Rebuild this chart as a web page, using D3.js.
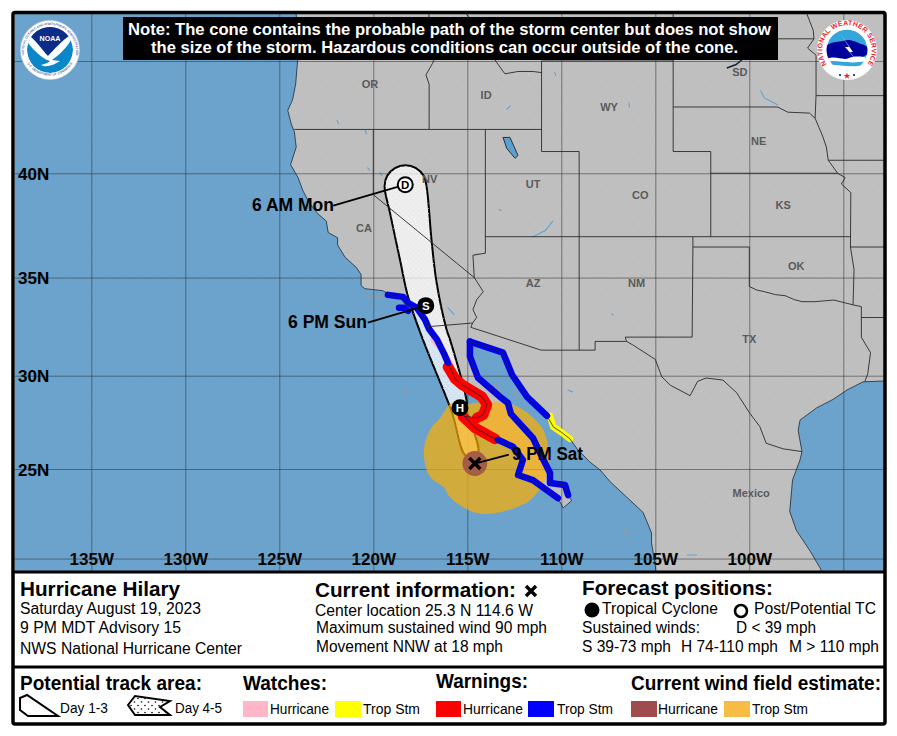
<!DOCTYPE html>
<html>
<head>
<meta charset="utf-8">
<title>Hurricane Hilary</title>
<script src="https://cdn.jsdelivr.net/npm/d3@7"></script>
<style>
  html, body { margin: 0; padding: 0; background: #fff; }
  svg { display: block; }
  text { font-family: "Liberation Sans", Arial, sans-serif; }
</style>
</head>
<body>
<svg id="map" width="897" height="736"></svg>
<script>
// Grid and tick labels
const lonGrid = [-135, -130, -125, -120, -115, -110, -105, -100, -95];
const lonLabels = ["135W", "130W", "125W", "120W", "115W", "110W", "105W", "100W", ""];
const latGrid = [20, 25, 30, 35, 40, 45];
const latLabels = ["", "25N", "30N", "35N", "40N", ""];

// Land outline, lon/lat: Pacific coast south, Baja round to the Gulf of California, Mexico, Gulf coast
const land = [
  [-124.1,47.5],[-124.1,46.9],[-124,46.3],[-123.95,45.9],[-123.97,45.5],[-124.05,44.8],[-124.13,44],[-124.3,43.3],
  [-124.55,42.85],[-124.35,42.2],[-124.2,41.9],[-124.1,41.2],[-124.4,40.4],[-124,39.8],[-123.75,39.2],[-123.4,38.6],
  [-122.95,38.1],[-122.5,37.75],[-122.4,37.2],[-121.9,36.95],[-121.9,36.6],[-121.5,36],[-120.9,35.5],[-120.65,35.15],
  [-120.65,34.6],[-120.45,34.45],[-119.5,34.35],[-118.9,34.05],[-118.45,33.95],[-118.3,33.7],[-117.7,33.45],[-117.25,32.9],
  [-117.12,32.53],[-116.9,32.1],[-116.61,31.87],[-116.24,31.15],[-116.03,30.68],[-115.85,30.3],[-115.65,29.84],[-115.28,29.53],
  [-114.22,28.89],[-113.95,28.47],[-114.16,27.93],[-114.48,27.77],[-115.15,27.85],[-114.59,27.23],[-113.53,26.64],
  [-112.57,26.21],[-112.04,25.5],[-112.3,24.67],[-111.51,24.39],[-110.18,23.39],[-109.9,22.85],[-109.45,23.25],[-109.64,23.56],
  [-109.8,24.12],[-110.6,24.23],[-110.6,24.78],[-111.08,25.77],[-111.51,26.69],[-112.68,27.98],[-112.84,28.57],[-113.26,28.89],
  [-114.43,29.89],[-114.86,31],[-114.86,31.77],[-113.1,31.2],[-112.62,30.05],[-111.82,28.89],[-110.76,27.88],[-110.43,27.29],
  [-109.96,26.97],[-109.54,26.64],[-109.16,26.1],[-108.5,25.4],[-107.94,24.95],[-107.4,24.3],[-105.65,22.6],[-105.2,21.45],
  [-105.2,20.9],[-105,19.6],[-104.9,18.5],[-96,18.5],[-96.2,19.4],[-96.75,20.4],[-97.5,21.6],[-97.85,22.65],[-97.7,24.4],
  [-97.3,25.5],[-97.2,25.95],[-97.4,27.1],[-97.3,27.65],[-96.42,28.3],[-95.55,28.75],[-94.8,29.25],[-93.95,29.68],[-92.9,29.72],
  [-92,29.7],[-92,47.5]
];

const stateLines = [
  [[-124,46.25],[-123.2,46.15],[-122.8,45.9],[-122.7,45.6],[-122.2,45.57],[-121.2,45.65],[-120.5,45.7],[-119.3,45.93],[-119,46],[-116.92,46]],
  [[-117.04,47.5],[-117.04,46.4],[-116.92,46]],
  [[-116.92,46],[-116.47,45.6],[-116.85,44.9],[-117.2,44.4],[-117.03,44],[-117.03,42]],
  [[-124.2,42],[-111.05,42]],
  [[-116.05,47.5],[-115.7,47.45],[-114.7,46.7],[-114.4,45.6],[-113.9,45.6],[-113.45,44.95],[-113,44.45],[-112.3,44.55],[-111.5,44.55],[-111.05,44.5]],
  [[-111.05,45],[-111.05,41],[-109.05,41]],
  [[-111.05,45],[-104.05,45]],
  [[-104.05,47.5],[-104.05,41]],
  [[-114.04,42],[-114.04,36.2],[-114.7,36.1],[-114.63,35],[-114.15,34.3],[-114.5,33.9],[-114.7,33.4],[-114.5,33],[-114.72,32.72],[-114.81,32.5],[-111.07,31.33],[-108.2,31.33],[-108.2,31.78],[-106.53,31.78]],
  [[-120,42],[-120,39],[-114.63,35]],
  [[-117.12,32.53],[-114.72,32.72]],
  [[-109.05,41],[-109.05,31.33]],
  [[-114.04,37],[-94.62,37]],
  [[-104.05,41],[-102.05,41],[-102.05,37]],
  [[-102.05,40],[-95.3,40]],
  [[-104.05,43],[-98.5,43],[-97.95,42.77],[-96.8,42.73],[-96.5,42.5]],
  [[-104.05,45.94],[-96.56,45.94]],
  [[-97.2,47.5],[-96.6,46.3],[-96.56,45.94],[-96.9,45.55],[-96.45,45.25],[-96.45,43.5],[-92,43.5]],
  [[-96.45,43.5],[-96.5,42.5],[-96.1,41.7],[-95.9,41.2],[-95.8,40.6],[-95.3,40],[-94.9,39.8],[-95.1,39.5],[-94.6,39.1],[-94.62,36.5],[-94.43,35.4],[-94.48,33.64]],
  [[-95.8,40.6],[-92,40.6]],
  [[-94.62,36.5],[-92,36.5]],
  [[-103,37],[-103,36.5],[-100,36.5],[-100,34.56],[-99.6,34.38],[-99.2,34.3],[-98.6,34.15],[-98.1,34.1],[-97.6,33.9],[-97.2,33.8],[-96.5,33.8],[-95.5,33.88],[-94.48,33.64],[-94.04,33.55],[-94.04,31.99],[-93.55,31.2],[-93.7,30.1],[-93.85,29.7]],
  [[-103,36.5],[-103.04,32],[-106.6,32],[-106.53,31.78],[-106.2,31.6],[-105,30.85],[-104.66,29.95],[-104.2,29.5],[-103.15,28.95],[-102.75,29.7],[-102.3,29.88],[-101.4,29.77],[-100.67,29.1],[-100,28.05],[-99.44,27.3],[-99.1,26.4],[-98.2,26.1],[-97.2,25.95]],
  [[-94.04,33],[-92,33]]
];

// Lakes, rivers and small islands
const lakes = [
  [[-121.93,42.4],[-121.85,42.25]],[[-120.44,41.95],[-120.35,41.8]],[[-119.65,40.05],[-119.55,39.9]],[[-120.3,40.25],[-120.2,40.15]],
  [[-120,39.15],[-120,39.02]],[[-110.35,44.5],[-110.3,44.38]],[[-110.45,37.75],[-110.85,37.3],[-111.5,37]],[[-112.7,43.05],[-112.9,42.9]],
  [[-114.6,36.15],[-114.4,36.15]],[[-116.03,33.5],[-115.7,33.15]],[[-103.3,20.2],[-102.8,20.2]],[[-99.4,43.7],[-99.2,43.4],[-98.5,43.1]],
  [[-109.65,29.25],[-109.4,29.15]],[[-113.3,38.3],[-113.2,38.25]],[[-106.4,43.2],[-106.38,43]],[[-107.3,33.2],[-107.25,33.1]]
];
const saltLake = [[-113.1,41.64],[-112.73,41.64],[-112.3,40.82],[-112.46,40.69],[-112.9,41.14]];
const oahe = [[-101.2,44.7],[-100.7,44.85],[-100.4,45.05]];
const islands = [
  [[-120.4,34.05],[-120,33.98]],[[-119.85,34.02],[-119.5,34.02]],[[-118.6,33.45],[-118.35,33.35]],
  [[-113.55,29.55],[-113.2,29.05]],[[-112.55,29.2],[-112.3,28.8]],[[-118.3,29.2],[-118.3,28.95]],[[-106.7,21.65],[-106.4,21.4]]
];

const stateNames = ["OR","ID","WY","SD","NE","NV","UT","CO","KS","CA","AZ","NM","OK","TX","Mexico"];
const stateLons = [-120.18,-114,-107.46,-100.5,-99.5,-117,-111.5,-105.8,-98.2,-120.5,-111.5,-106,-97.5,-100,-99.9];
const stateLats = [44,43.5,43,44.5,41.45,39.75,39.5,39,38.5,37.4,34.7,34.7,35.55,31.9,23.65];

// Storm: current position, forecast points, cone, wind field
const currentCenter = [-114.6, 25.3];
const hurricaneRadius = 0.66; // degrees of longitude
const forecastCodes = ["H", "S", "D"];
const forecastPoints = [[-115.39,28.31],[-117.21,33.6],[-118.3,39.47]];
const forecastTimes = ["9 PM Sat", "6 PM Sun", "6 AM Mon"];
const cone = [
  [-115.07,25.72],[-115.83,28.11],[-117.36,31.87],[-118.15,34.04],[-118.58,35.88],[-119.11,38.13],[-119.4,39.4],[-119.26,39.88],
  [-118.85,40.24],[-118.29,40.37],[-117.73,40.24],[-117.32,39.88],[-117.17,39.4],[-116.89,36.71],[-116.63,34.73],[-116.1,32.38],
  [-115.92,31.87],[-115.03,28.64],[-115.02,28.15],[-114.43,25.87]
];
const windField = [
  [-115.83,28.56],[-116.45,27.76],[-116.98,27.13],[-117.29,26.22],[-117.25,25.32],[-116.98,24.57],[-116.19,23.93],[-116.01,23.56],
  [-115.39,23],[-114.5,22.57],[-113.61,22.54],[-112.55,22.82],[-111.66,23.28],[-110.96,24.21],[-110.64,25.32],[-110.69,26.22],
  [-110.96,27.13],[-111.49,27.76],[-112.2,28.29],[-112.91,28.56],[-113.79,28.59],[-114.68,28.56],[-115.39,28.38]
];

// Watch and warning segments
const hurricaneWatch = [[[-116.82,31.87],[-116.36,31.36],[-115.92,30.68],[-115.81,30.2]]];
const stormWatch = [[[-110.6,27.88],[-110.43,27.29],[-109.96,26.97],[-109.54,26.64]]];
const hurricaneWarning = [
  [[-116.03,30.47],[-115.65,29.84],[-115.28,29.53],[-114.22,28.89],[-113.95,28.47],[-114.16,27.93],[-114.48,27.77]],
  [[-115.23,27.83],[-114.59,27.23],[-113.53,26.64]]
];
const stormWarning = [
  [[-119.22,34.14],[-118.42,34.04],[-118.15,33.74],[-117.68,33.49],[-117.25,32.89],[-117.04,32.43],[-116.61,31.87],[-116.24,31.15],[-116.03,30.68]],
  [[-118.63,33.49],[-118.37,33.49],[-118.15,33.34]],
  [[-113.37,26.59],[-112.57,26.21],[-112.04,25.5],[-112.3,24.67],[-111.51,24.39],[-110.18,23.39]],
  [[-114.86,31.77],[-114.86,31],[-114.43,29.89],[-113.26,28.89],[-112.84,28.57],[-112.68,27.98],[-111.51,26.69],[-111.08,25.77],[-110.6,24.78],[-110.6,24.23],[-109.8,24.12],[-109.64,23.56]],
  [[-114.86,31.77],[-113.1,31.2],[-112.62,30.05],[-111.82,28.89],[-110.76,27.88]]
];

// Text panels
const noteLines = ["Note: The cone contains the probable path of the storm center but does not show",
                   "the size of the storm. Hazardous conditions can occur outside of the cone."];
const stormLines = ["Hurricane Hilary", "Saturday August 19, 2023", "9 PM MDT Advisory 15", "NWS National Hurricane Center"];
const currentLines = ["Current information:", "Center location 25.3 N 114.6 W", "Maximum sustained wind 90 mph", "Movement NNW at 18 mph"];
const forecastLines = ["Forecast positions:", "Tropical Cyclone", "Post/Potential TC", "Sustained winds:", "D < 39 mph", "S 39-73 mph", "H 74-110 mph", "M > 110 mph"];
const legendHeads = ["Potential track area:", "Watches:", "Warnings:", "Current wind field estimate:"];
const swatchNames = ["Hurricane", "Trop Stm", "Hurricane", "Trop Stm", "Hurricane", "Trop Stm"];
const swatchColors = ["#ffb6c8", "#ffff00", "#ff0000", "#0000ff", "#a04b4e", "#f6bc43"];

// Scales: longitude is linear, latitude goes through Mercator
const merc = lat => Math.log(Math.tan(Math.PI / 4 + lat * Math.PI / 360));
const lonX = d3.scaleLinear().domain([-135, -100]).range([91.3, 749.3]);
const mercY = d3.scaleLinear().domain([merc(25), merc(45)]).range([469, 61]);
const px = d => lonX(d[0]);
const py = d => mercY(merc(d[1]));
const geoLine = d3.line().x(px).y(py);
const smoothClosed = d3.line().x(px).y(py).curve(d3.curveCatmullRomClosed.alpha(0.5));

const svg = d3.select("#map");
const defs = svg.append("defs");

function dots(id, size, bg, color, r, pts) {
  const p = defs.append("pattern").attr("id", id).attr("width", size).attr("height", size).attr("patternUnits", "userSpaceOnUse");
  if (bg) p.append("rect").attr("width", size).attr("height", size).attr("fill", bg);
  pts.forEach(c => p.append("circle").attr("cx", c[0]).attr("cy", c[1]).attr("r", r).attr("fill", color));
}
dots("oceanTex", 17, "#6ca3cc", "#5d97c4", 0.6, [[3,4],[12,12]]);
dots("landTex", 13, "#bfbfbf", "#cbcbcb", 0.55, [[2,3],[9,9]]);
dots("coneTex", 5, null, "#ffffff", 0.6, [[1,1],[3.5,3.5]]);
dots("hurTex", 4, null, "#b86e54", 0.5, [[1,1],[3,3]]);
dots("day45", 7, "#ffffff", "#000000", 0.8, [[1.5,2],[5,5.5]]);

defs.append("clipPath").attr("id", "mapClip").append("rect").attr("x", 15).attr("y", 13).attr("width", 869).attr("height", 559);

const g = svg.append("g").attr("clip-path", "url(#mapClip)");
g.append("rect").attr("x", 15).attr("y", 13).attr("width", 869).attr("height", 559).attr("fill", "url(#oceanTex)");
g.append("path").attr("d", geoLine(land) + "Z").attr("fill", "url(#landTex)");

// Islands, lakes
g.append("g").selectAll("path").data(islands).join("path")
  .attr("d", geoLine).attr("fill", "none").attr("stroke", "#9a9a9a").attr("stroke-width", 1.8).attr("stroke-linecap", "round");
g.append("g").selectAll("path").data(lakes).join("path")
  .attr("d", geoLine).attr("fill", "none").attr("stroke", "#62a3d2").attr("stroke-width", 1.1).attr("stroke-linecap", "round");
g.append("path").attr("d", geoLine(saltLake) + "Z").attr("fill", "#5c9fd0").attr("stroke", "#222").attr("stroke-width", 0.9);
g.append("path").attr("d", geoLine(oahe)).attr("fill", "none").attr("stroke", "#16283c").attr("stroke-width", 1.6);

// Graticule and tick labels, drawn by d3 axes
const lonAxis = d3.axisBottom(lonX).tickValues(lonGrid).tickFormat((d, i) => lonLabels[i]).tickSize(-559);
const latAxis = d3.axisRight(mercY).tickValues(latGrid.map(merc)).tickFormat((d, i) => latLabels[i]).tickSize(869);

function styleAxis(sel) {
  sel.select(".domain").remove();
  sel.selectAll("line").attr("stroke", "#333").attr("stroke-opacity", 0.55).attr("stroke-width", 1);
  sel.selectAll("text").attr("fill", "#000").attr("font-size", 17).attr("font-weight", "bold")
    .attr("font-family", "Liberation Sans, Arial, sans-serif");
}
g.append("g").attr("transform", "translate(0,572)").call(lonAxis).call(styleAxis)
  .selectAll("text").attr("y", -7).attr("dy", 0);
g.append("g").attr("transform", "translate(15,0)").call(latAxis).call(styleAxis)
  .selectAll("text").attr("x", 3).attr("text-anchor", "start").attr("dy", "0.36em");

// Cone, then the wind field over it
g.append("path").attr("d", smoothClosed(cone)).attr("fill", "#fff").attr("fill-opacity", 0.7)
  .attr("stroke", "#000").attr("stroke-width", 2);
g.append("path").attr("d", smoothClosed(cone)).attr("fill", "url(#coneTex)").attr("fill-opacity", 0.7);
g.append("path").attr("d", smoothClosed(windField)).attr("fill", "#feae00").attr("fill-opacity", 0.7);
const hurR = lonX(currentCenter[0] + hurricaneRadius) - lonX(currentCenter[0]);
g.append("circle").attr("cx", px(currentCenter)).attr("cy", py(currentCenter)).attr("r", hurR).attr("fill", "#a55a42");
g.append("circle").attr("cx", px(currentCenter)).attr("cy", py(currentCenter)).attr("r", hurR).attr("fill", "url(#hurTex)");

// State labels sit over the cone
g.append("g").selectAll("text").data(stateNames).join("text")
  .attr("x", (d, i) => lonX(stateLons[i]))
  .attr("y", (d, i) => mercY(merc(stateLats[i])))
  .attr("dy", "0.35em").attr("text-anchor", "middle")
  .attr("font-size", 11).attr("font-weight", "bold").attr("fill", "#5a5a5a").text(d => d);

// Watches and warnings
function segments(data, color, width) {
  g.append("g").selectAll("path").data(data).join("path")
    .attr("d", geoLine).attr("fill", "none").attr("stroke", color).attr("stroke-width", width)
    .attr("stroke-linecap", "round").attr("stroke-linejoin", "round");
}
segments(hurricaneWatch, "#ffb6c8", 5.5);
segments(stormWatch, "#ffff00", 6.5);
segments(hurricaneWarning, "#ff0000", 10.5);
segments(stormWarning, "#0000f0", 6.5);

// Coast and borders over everything so far
g.append("path").attr("d", geoLine(land) + "Z").attr("fill", "none").attr("stroke", "#1c2a36").attr("stroke-width", 0.8);
g.append("g").selectAll("path").data(stateLines).join("path")
  .attr("d", geoLine).attr("fill", "none").attr("stroke", "#2a2a2a").attr("stroke-width", 0.9);

// Time labels with their leader lines
const labelOffsets = [[34, -9], [-58, 17], [-72, 21]];
const labelAnchors = [currentCenter, forecastPoints[1], forecastPoints[2]];
const labelEnds = [[512, 460, 71], [288, 328, 79], [252, 211, 82]];
labelAnchors.forEach((p, i) => {
  g.append("line").attr("x1", px(p)).attr("y1", py(p))
    .attr("x2", px(p) + labelOffsets[i][0]).attr("y2", py(p) + labelOffsets[i][1])
    .attr("stroke", "#000").attr("stroke-width", 1.8);
});

// Forecast markers and the current position
g.append("g").selectAll("g").data(forecastPoints).join("g")
  .attr("transform", d => `translate(${px(d)},${py(d)})`)
  .each(function(d, i) {
    const code = forecastCodes[i], open = code === "D";
    const m = d3.select(this);
    m.append("circle").attr("r", open ? 7.5 : 8.5).attr("fill", open ? "#fff" : "#000")
      .attr("stroke", "#000").attr("stroke-width", open ? 2 : 0);
    m.append("text").attr("text-anchor", "middle").attr("dy", "0.36em").attr("font-size", 11.5).attr("font-weight", "bold")
      .attr("fill", open ? "#000" : "#fff").text(code);
  });
const cross = (sel, x, y, r) => sel.append("path")
  .attr("d", `M${x - r},${y - r}L${x + r},${y + r}M${x - r},${y + r}L${x + r},${y - r}`)
  .attr("stroke", "#000").attr("stroke-width", 3.4).attr("fill", "none");
cross(g, px(currentCenter), py(currentCenter), 5.5);

function label(sel, x, y, s, size, bold, width, color) {
  const t = sel.append("text").attr("x", x).attr("y", y).attr("font-size", size)
    .attr("font-weight", bold ? "bold" : "normal").attr("fill", color || "#000").text(s);
  if (width) t.attr("textLength", width).attr("lengthAdjust", "spacingAndGlyphs");
  return t;
}
forecastTimes.forEach((s, i) => label(g, labelEnds[i][0], labelEnds[i][1], s, 18, true, labelEnds[i][2]));

// Note box
svg.append("rect").attr("x", 123).attr("y", 17).attr("width", 655).attr("height", 43).attr("fill", "#000");
label(svg, 128, 35, noteLines[0], 16, true, 643, "#fff");
label(svg, 151, 53, noteLines[1], 16, true, 587, "#fff");

// NOAA logo
const noaa = svg.append("g").attr("transform", "translate(50,50)");
defs.append("clipPath").attr("id", "noaaClip").append("circle").attr("r", 23);
noaa.append("circle").attr("r", 29.5).attr("fill", "#fff").attr("stroke", "#c8d8ea").attr("stroke-width", 0.6);
const noaaInner = noaa.append("g").attr("clip-path", "url(#noaaClip)");
noaaInner.append("circle").attr("r", 23).attr("fill", "#0a86c9");
noaaInner.append("path").attr("d", "M-24,-24H24V-17C12,-10 4,0 -2,6C-8,0 -14,-10 -24,-17Z").attr("fill", "#0d2b88");
noaaInner.append("path").attr("d", "M-24,-17C-14,-10 -8,0 -2,6C4,0 12,-10 24,-17C20,-4 8,6 2,10L10,11C4,15 -4,18 -9,15C-4,14 -1,12 0,11C-10,8 -20,-4 -24,-10Z").attr("fill", "#fff");
label(noaa, -10.5, -9, "NOAA", 7.5, true, 21, "#fff");
noaa.append("path").attr("id", "noaaTop").attr("d", "M-25,8A26,26 0 1 1 25,8").attr("fill", "none");
noaa.append("path").attr("id", "noaaBot").attr("d", "M-25,9A27,27 0 0 0 25,9").attr("fill", "none");
noaa.append("text").attr("font-size", 3.2).attr("fill", "#0d2b88").attr("text-anchor", "middle")
  .append("textPath").attr("href", "#noaaTop").attr("startOffset", "50%").text("NATIONAL OCEANIC AND ATMOSPHERIC ADMINISTRATION");
noaa.append("text").attr("font-size", 3.2).attr("fill", "#0d2b88").attr("text-anchor", "middle")
  .append("textPath").attr("href", "#noaaBot").attr("startOffset", "50%").text("U.S. DEPARTMENT OF COMMERCE");

// NWS logo
const nws = svg.append("g").attr("transform", "translate(847,50)");
defs.append("clipPath").attr("id", "nwsClip").append("circle").attr("r", 20.5);
nws.append("circle").attr("r", 30).attr("fill", "#fff");
const nwsInner = nws.append("g").attr("clip-path", "url(#nwsClip)");
nwsInner.append("circle").attr("r", 20.5).attr("fill", "#35a6dc");
nwsInner.append("path").attr("d", "M-22,-3C-16,-9 -8,-8 -4,-9C2,-12 10,-8 14,-6C18,-5 22,-3 22,0C22,6 14,8 6,8C-2,12 -12,12 -20,7Z").attr("fill", "#00009c");
nwsInner.append("path").attr("d", "M-20,9C-12,5 -4,11 2,8C8,6 16,6 22,9V22H-22Z").attr("fill", "#fff");
nwsInner.append("path").attr("d", "M-20,12C-10,9 0,15 20,11V14C4,19 -8,14 -20,15Z").attr("fill", "#35a6dc");
nws.append("path").attr("d", "M-7,-17L2,-3L-2,-3L12,13L3,2L6,2Z").attr("fill", "#fff");
nws.append("path").attr("id", "nwsArc").attr("d", "M-16.5,18.5A24.8,24.8 0 1 1 16.5,18.5").attr("fill", "none");
nws.append("text").attr("font-size", 6.9).attr("font-weight", "bold").attr("fill", "#ee1c25").attr("text-anchor", "middle")
  .attr("letter-spacing", 0.2)
  .append("textPath").attr("href", "#nwsArc").attr("startOffset", "50%").text("NATIONAL WEATHER SERVICE");
nws.append("path").attr("d", d3.symbol(d3.symbolStar, 14)()).attr("transform", "translate(0,26)").attr("fill", "#ee1c25");
[-7, 7].forEach(dx => nws.append("circle").attr("cx", dx).attr("cy", 25).attr("r", 1).attr("fill", "#00009c"));

// Lower panels
const panel = svg.append("g");
panel.append("rect").attr("x", 13).attr("y", 572).attr("width", 872).attr("height", 152).attr("fill", "#fff");

label(panel, 20, 596, stormLines[0], 20.5, true, 160);
label(panel, 20, 614, stormLines[1], 15.6, false, 181);
label(panel, 20, 633, stormLines[2], 15.6, false, 161);
label(panel, 20, 654, stormLines[3], 15.6, false, 222);

label(panel, 315, 597, currentLines[0], 20.5, true, 201);
cross(panel, 531, 591, 5);
label(panel, 315, 616, currentLines[1], 15.6, false, 218);
label(panel, 316, 633, currentLines[2], 15.6, false, 231);
label(panel, 316, 652, currentLines[3], 15.6, false, 187);

label(panel, 582, 595, forecastLines[0], 20.5, true, 191);
panel.append("circle").attr("cx", 592).attr("cy", 610).attr("r", 7.5).attr("fill", "#000");
label(panel, 602, 614, forecastLines[1], 15.6, false, 116);
panel.append("circle").attr("cx", 741).attr("cy", 611).attr("r", 6).attr("fill", "#fff").attr("stroke", "#000").attr("stroke-width", 2.6);
label(panel, 754, 614, forecastLines[2], 15.6, false, 122);
label(panel, 582, 633, forecastLines[3], 15.6, false, 118);
label(panel, 736, 633, forecastLines[4], 15.6, false, 80);
label(panel, 582, 652, forecastLines[5], 15.6, false, 89);
label(panel, 681, 652, forecastLines[6], 15.6, false, 97);
label(panel, 789, 652, forecastLines[7], 15.6, false, 90);

label(panel, 20, 690, legendHeads[0], 20.5, true, 182);
label(panel, 243, 690, legendHeads[1], 20.5, true, 84);
label(panel, 436, 688, legendHeads[2], 20.5, true, 92);
label(panel, 631, 690, legendHeads[3], 19.4, true, 250);

panel.append("path").attr("d", "M20,698L27,695L58,716L28,716L20,710Z").attr("fill", "#fff").attr("stroke", "#000").attr("stroke-width", 2);
label(panel, 60, 713, "Day 1-3", 13.8, false, 48);
panel.append("path").attr("d", "M128,705L135,696L170,701L160,707L170,715L135,715Z").attr("fill", "url(#day45)").attr("stroke", "#000").attr("stroke-width", 2);
label(panel, 175, 713, "Day 4-5", 13.8, false, 47);

const swatchX = [243, 335, 436, 528, 631, 724];
const swatchW = [25, 26, 25, 26, 26, 26];
const nameX = [270, 363, 463, 557, 658, 752];
const nameW = [59, 57, 60, 56, 60, 56];
swatchNames.forEach((s, i) => {
  panel.append("rect").attr("x", swatchX[i]).attr("y", 701).attr("width", swatchW[i]).attr("height", 16).attr("fill", swatchColors[i]);
  label(panel, nameX[i], 714, s, 13.8, false, nameW[i]);
});

// Frame and dividers on top
svg.append("rect").attr("x", 13).attr("y", 12.5).attr("width", 872).attr("height", 711.5).attr("rx", 2)
  .attr("fill", "none").attr("stroke", "#000").attr("stroke-width", 3.5);
[572, 667].forEach(y => svg.append("line").attr("x1", 13).attr("x2", 885).attr("y1", y).attr("y2", y)
  .attr("stroke", "#000").attr("stroke-width", 3.2));
</script>
</body>
</html>
